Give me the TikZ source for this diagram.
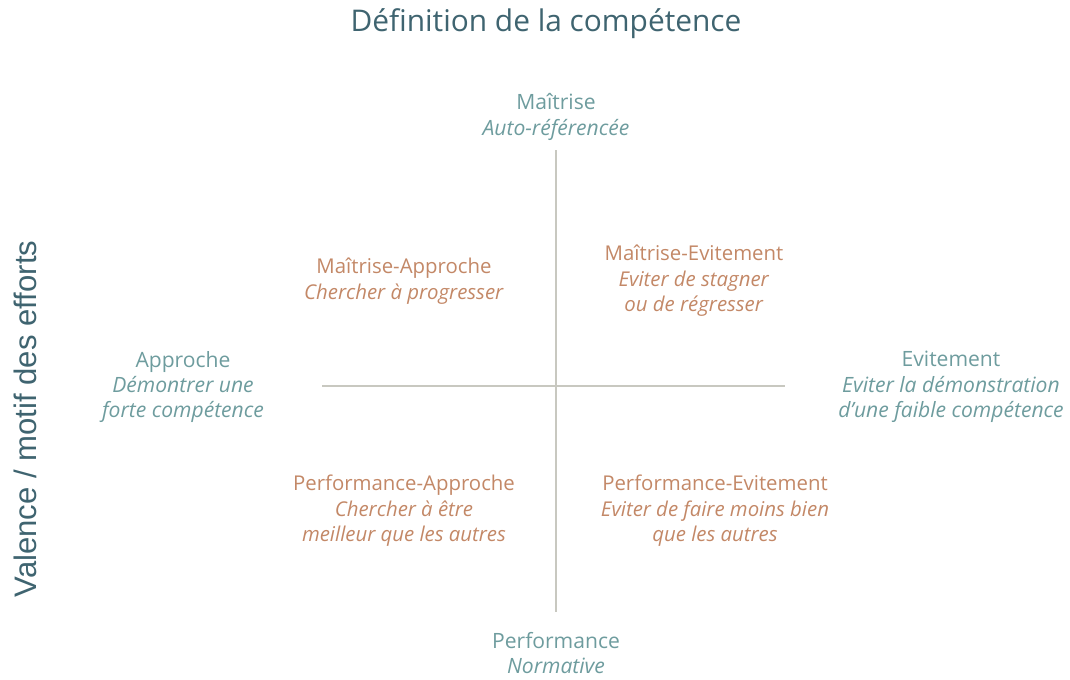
\documentclass[tikz,border=0pt]{standalone}
\usepackage{fontspec}
\setmainfont{Open Sans}
\newfontfamily\arialfont{Liberation Sans}
\usetikzlibrary{positioning}
\definecolor{titleteal}{HTML}{3F6470}
\definecolor{axisteal}{HTML}{6E9C9E}
\definecolor{quadorange}{HTML}{C38867}
\definecolor{axisgray}{HTML}{C8C8C0}
\tikzstyle{pole} = [align=center, text=axisteal, inner sep=0pt, font=\fontsize{12}{14.5}\selectfont]
\tikzstyle{quad} = [align=center, text=quadorange, inner sep=0pt, font=\fontsize{11.6}{14.5}\selectfont]
\tikzstyle{axis} = [draw=axisgray, line width=0.8pt]

\begin{document}
\begin{tikzpicture}[x=0.02cm, y=-0.02cm]
	
		\useasboundingbox (0,0) rectangle (1070,679);
		
		% Titles
		\node[text=titleteal, font=\fontsize{17}{20}\selectfont] (title) at (546,24) {Définition de la compétence};
		\node[text=titleteal, rotate=90, font=\arialfont\fontsize{17.7}{20}\selectfont] (valence) at (25,419) {Valence / motif des efforts};
		
		% Axes
		\coordinate (top) at (556,150);
		\coordinate (bottom) at (556,612);
		\coordinate (left) at (322,386);
		\coordinate (right) at (785,386);
		\draw[axis] (top) -- (bottom);
		\draw[axis] (left) -- (right);
		
		% Poles
		\node[pole] (maitrise) at (556,117) {Maîtrise\\\textit{Auto-référencée}};
		\node[pole] (performance) at (556,653) {Performance\\\textit{Normative}};
		\node[pole] (approche) at (183,387) {Approche\\\textit{Démontrer une}\\\textit{forte compétence}};
		\node[pole] (evitement) at (951,387) {Evitement\\\textit{Eviter la démonstration}\\\textit{d’une faible compétence}};
		
		% Quadrants
		\node[quad] (mapp) at (404,281) {Maîtrise-Approche\\\textit{Chercher à progresser}};
		\node[quad] (mev) at (694,281) {Maîtrise-Evitement\\\textit{Eviter de stagner}\\\textit{ou de régresser}};
		\node[quad] (papp) at (404,511) {Performance-Approche\\\textit{Chercher à être}\\\textit{meilleur que les autres}};
		\node[quad] (pev) at (715,511) {Performance-Evitement\\\textit{Eviter de faire moins bien}\\\textit{que les autres}};
	
	\end{tikzpicture}
\end{document}
